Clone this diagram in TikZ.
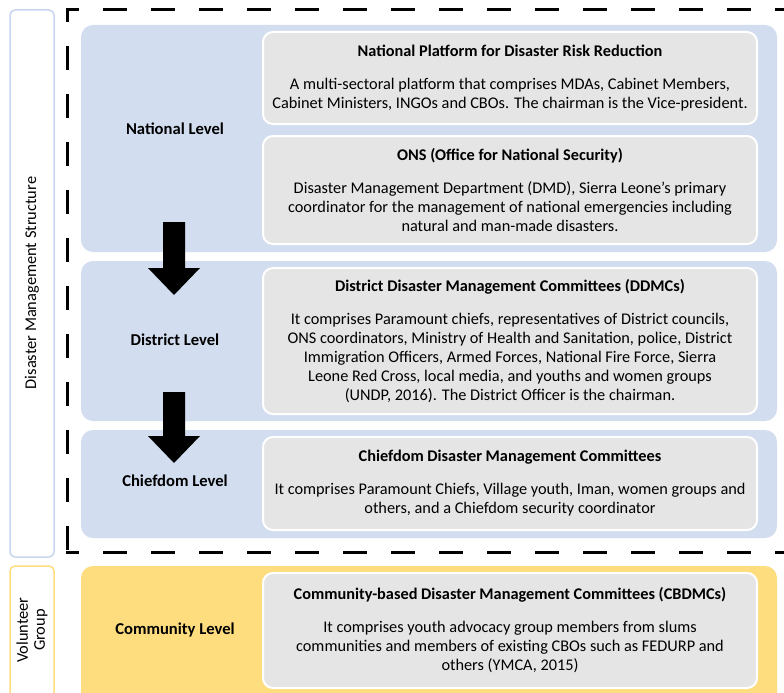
\documentclass[tikz,border=0pt]{standalone}
\usepackage{fontspec}
\setmainfont{Carlito}
\definecolor{panelblue}{HTML}{D2DDEF}
\definecolor{sideblue}{HTML}{C8D6EE}
\definecolor{panelyellow}{HTML}{FEDD7E}
\definecolor{boxgray}{HTML}{E5E5E5}
\tikzset{
  panel/.style={rounded corners=12pt},
  infobox/.style={fill=boxgray,draw=white,line width=2pt,rounded corners=10pt,
    minimum width=494pt,inner sep=0pt},
  levellabel/.style={font=\fontsize{16.6}{19}\selectfont\bfseries},
  sidelabel/.style={rotate=90,font=\fontsize{16.4}{17}\selectfont},
  bigdash/.style={line width=3pt,line cap=rect,dash pattern=on 21pt off 27pt,dash phase=10.5pt}
}
\begin{document}
\begin{tikzpicture}[x=1pt,y=-1pt,every node/.style={font=\fontsize{16.3}{19}\selectfont,align=center}]
 \clip (0,0) rectangle (784,693);
 \fill[white] (0,0) rectangle (784,693);
 % side labels
 \draw[sideblue,line width=1.5pt,fill=white,rounded corners=5pt] (10,10) rectangle (54,557);
 \draw[panelyellow,line width=1.5pt,fill=white,rounded corners=5pt] (10,566) rectangle (54,710);
 \node[sidelabel] (dms) at (32,283) {Disaster Management Structure};
 \node[sidelabel] (vol) at (32,630) {Volunteer\\Group};
 % dashed frame
 \draw[bigdash] (67,10) -- (800,10);
 \draw[bigdash] (67,10) -- (67,552);
 \draw[bigdash] (67,552) -- (800,552);
 % level panels
 \fill[panel,panelblue] (81,25) rectangle (777,252);
 \fill[panel,panelblue] (81,261) rectangle (777,421);
 \fill[panel,panelblue] (81,430) rectangle (777,538);
 \fill[panel,panelyellow] (81,566) rectangle (777,712);
 \node[levellabel] (natl) at (175,129) {National Level};
 \node[levellabel] (dist) at (175,340) {District Level};
 \node[levellabel] (chief) at (175,481) {Chiefdom Level};
 \node[levellabel] (comm) at (175,630) {Community Level};
 % arrows between levels
 \foreach \t/\b in {222/295,392/463}
  \fill (163,\t) -- (185,\t) -- (185,\b-27) -- (200,\b-27) -- (174,\b) -- (148,\b-27) -- (163,\b-27) -- cycle;
 % committees
 \node[infobox,minimum height=92pt] (npdrr) at (510,78) {\textbf{National Platform for Disaster Risk Reduction}\\[14pt]
  A multi-sectoral platform that comprises MDAs, Cabinet Members,\\ Cabinet Ministers, INGOs and CBOs. The chairman is the Vice-president.};
 \node[infobox,minimum height=108pt] (ons) at (510,190) {\textbf{ONS (Office for National Security)}\\[14pt]
  Disaster Management Department (DMD), Sierra Leone’s primary\\ coordinator for the management of national emergencies including\\ natural and man-made disasters.};
 \node[infobox,minimum height=146pt] (ddmc) at (510,341) {\textbf{District Disaster Management Committees (DDMCs)}\\[14pt]
  It comprises Paramount chiefs, representatives of District councils,\\ ONS coordinators, Ministry of Health and Sanitation, police, District\\ Immigration Officers, Armed Forces, National Fire Force, Sierra\\ Leone Red Cross, local media, and youths and women groups\\ (UNDP, 2016). The District Officer is the chairman.};
 \node[infobox,minimum height=93pt] (cdmc) at (510,483.5) {\textbf{Chiefdom Disaster Management Committees}\\[14pt]
  It comprises Paramount Chiefs, Village youth, Iman, women groups and\\ others, and a Chiefdom security coordinator};
 \node[infobox,minimum height=115pt] (cbdmc) at (510,630.5) {\textbf{Community-based Disaster Management Committees (CBDMCs)}\\[14pt]
  It comprises youth advocacy group members from slums\\ communities and members of existing CBOs such as FEDURP and\\ others (YMCA, 2015)};
\end{tikzpicture}
\end{document}
